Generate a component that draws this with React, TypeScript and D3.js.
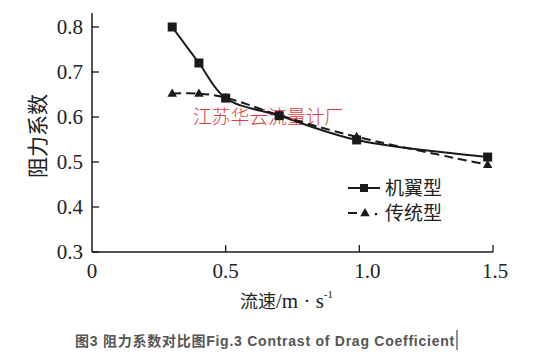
import React from "react";
import * as d3 from "d3";

const speeds = [0.3, 0.4, 0.5, 0.7, 0.99, 1.48];
const wingValues = [0.8, 0.72, 0.642, 0.603, 0.549, 0.511];
const traditionalValues = [0.652, 0.652, 0.643, 0.604, 0.556, 0.494];
const xTicks = [0, 0.5, 1.0, 1.5];
const xTickLabels = ["0", "0.5", "1.0", "1.5"];
const yTicks = [0.3, 0.4, 0.5, 0.6, 0.7, 0.8];
const seriesNames = ["机翼型", "传统型"];
const yTitle = "阻力系数";
const watermark = "江苏华云流量计厂";
const caption = "图3 阻力系数对比图Fig.3 Contrast of Drag Coefficient";

const W = 537;
const H = 358;
const x = d3.scaleLinear().domain([0, 1.5]).range([92, 493]);
const y = d3.scaleLinear().domain([0.3, 0.8]).range([252, 27]);
const yTop = 13;

const serif = "'Liberation Serif', 'Tinos', 'DejaVu Serif', serif";
const cjk = "'Noto Sans CJK SC', sans-serif";

export default function App() {
  const line = d3
    .line<[number, number]>()
    .x((d) => x(d[0]))
    .y((d) => y(d[1]))
    .curve(d3.curveCatmullRom.alpha(0.5));
  const wing = speeds.map((s, i) => [s, wingValues[i]] as [number, number]);
  const trad = speeds.map((s, i) => [s, traditionalValues[i]] as [number, number]);
  const ink = "#1a1a1a";
  const tri = (cx: number, cy: number, r: number) =>
    `M${cx},${cy - r}L${cx + r * 0.95},${cy + r * 0.65}L${cx - r * 0.95},${cy + r * 0.65}Z`;

  return (
    <svg
      width={W}
      height={H}
      style={{ position: "absolute", left: 0, top: 0, background: "#fff" }}
    >
      <rect width={W} height={H} fill="#fff" />
      <line x1={x(0)} x2={x(0)} y1={y(0.3)} y2={yTop} stroke={ink} strokeWidth={1.5} />
      <line x1={x(0)} x2={x(1.5)} y1={y(0.3)} y2={y(0.3)} stroke={ink} strokeWidth={1.5} />
      {yTicks.map((t) => (
        <g key={"y" + t}>
          <line x1={x(0)} x2={x(0) + 7} y1={y(t)} y2={y(t)} stroke={ink} strokeWidth={1.3} />
          <text
            x={x(0) - 9}
            y={y(t)}
            dy="0.34em"
            textAnchor="end"
            fontFamily={serif}
            fontSize={21}
            fill="#222"
          >
            {t.toFixed(1)}
          </text>
        </g>
      ))}
      {xTicks.map((t, i) => (
        <g key={"x" + t}>
          {t > 0 && (
            <line x1={x(t)} x2={x(t)} y1={y(0.3)} y2={y(0.3) - 7} stroke={ink} strokeWidth={1.3} />
          )}
          <text
            x={x(t) + (t === 1 ? 8 : t === 1.5 ? 2 : 0)}
            y={278}
            textAnchor="middle"
            fontFamily={serif}
            fontSize={21}
            fill="#222"
          >
            {xTickLabels[i]}
          </text>
        </g>
      ))}
      <text x={240} y={308} fontFamily={serif} fontSize={21} fill="#222">
        <tspan fontFamily={cjk} fontSize={18}>流速</tspan>
        <tspan fontFamily={serif}>/m · s</tspan>
        <tspan fontFamily={serif} fontSize={11} dy={-10}>-1</tspan>
      </text>
      <text
        transform={`translate(45,136) rotate(-90)`}
        textAnchor="middle"
        fontFamily={cjk}
        fontSize={21}
        fill="#222"
      >
        {yTitle}
      </text>
      <text x={193} y={124} fontFamily={cjk} fontSize={18.8} fontWeight={300} fill="#e0393c">
        {watermark}
      </text>
      <path d={line(trad) || ""} fill="none" stroke={ink} strokeWidth={2} strokeDasharray="9 5" />
      <path d={line(wing) || ""} fill="none" stroke={ink} strokeWidth={2} />
      {trad.map((d, i) => (
        <path key={"t" + i} d={tri(x(d[0]), y(d[1]), 5)} fill={ink} />
      ))}
      {wing.map((d, i) => (
        <rect key={"s" + i} x={x(d[0]) - 4.5} y={y(d[1]) - 4.5} width={9} height={9} fill={ink} />
      ))}
      <g>
        <line x1={348} x2={380} y1={188} y2={188} stroke={ink} strokeWidth={2} />
        <rect x={360} y={184} width={8} height={8} fill={ink} />
        <text x={385} y={188} dy="0.36em" fontFamily={cjk} fontSize={19} fill="#222">
          {seriesNames[0]}
        </text>
        <line x1={348} x2={357} y1={213} y2={213} stroke={ink} strokeWidth={2} />
        <path d={tri(365, 213, 5)} fill={ink} />
        <circle cx={376} cy={214} r={1.3} fill={ink} />
        <text x={385} y={213} dy="0.36em" fontFamily={cjk} fontSize={19} fill="#222">
          {seriesNames[1]}
        </text>
      </g>
      <text
        x={75}
        y={346}
        fontFamily="'Liberation Sans', 'Noto Sans CJK SC', sans-serif"
        fontWeight="bold"
        fontSize={14}
        letterSpacing={0.75}
        fill="#555"
      >
        {caption}
      </text>
      <line x1={457} x2={457} y1={330} y2={350} stroke="#222" strokeWidth={1} />
    </svg>
  );
}
